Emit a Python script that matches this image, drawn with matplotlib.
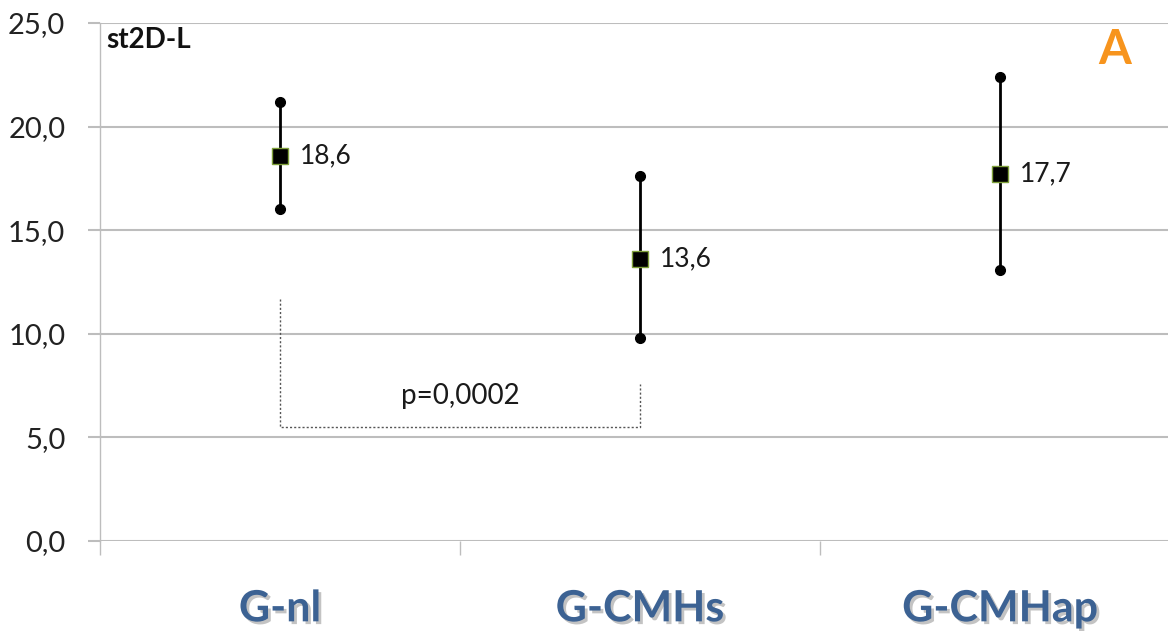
import matplotlib
matplotlib.use("Agg")
import matplotlib.pyplot as plt
import matplotlib.patheffects as pe
from matplotlib import font_manager as fm

categories = ["G-nl", "G-CMHs", "G-CMHap"]
means = [18.6, 13.6, 17.7]
upper = [21.2, 17.6, 22.4]
lower = [16.0, 9.8, 13.1]
mean_labels = ["18,6", "13,6", "17,7"]
yticks = [0, 5, 10, 15, 20, 25]
ytick_labels = ["0,0", "5,0", "10,0", "15,0", "20,0", "25,0"]
bracket_left_top = 11.7
bracket_right_top = 7.6
bracket_bottom = 5.5
p_text = "p=0,0002"

names = {f.name for f in fm.fontManager.ttflist}
base = "Lato" if "Lato" in names else "DejaVu Sans"
plt.rcParams['font.family'] = [base, 'DejaVu Sans']

fig = plt.figure(figsize=(11.68, 6.31), dpi=100)
ax = fig.add_axes([100/1168, (631-541)/631, 1080/1168, (541-23)/631])
ax.set_xlim(0, 3)
ax.set_ylim(0, 25)

grid_c = "#BDBDBD"
for s in ["top", "right", "bottom"]:
    ax.spines[s].set_visible(False)
ax.spines["left"].set_color(grid_c)
ax.spines["left"].set_linewidth(1.0)
ax.set_yticks(yticks)
ax.set_yticklabels(ytick_labels, fontsize=21, color="#222222")
ax.yaxis.grid(True, color=grid_c, linewidth=1.5)
ax.set_axisbelow(True)
ax.tick_params(axis="y", length=9, width=1.5, color=grid_c, pad=16)
ax.set_xticks([0, 1, 2, 3])
ax.set_xticklabels([])
ax.tick_params(axis="x", length=10, width=1.0, color=grid_c)
ax.axhline(0, color=grid_c, lw=2.0, zorder=1)

xs = [i + 0.5 for i in range(len(categories))]
for x, m, u, l, lab in zip(xs, means, upper, lower, mean_labels):
    ax.plot([x, x], [l, u], color="black", lw=2.0, zorder=3)
    ax.plot([x, x], [l, u], "o", color="black", ms=7, zorder=4)
    ax.plot([x], [m], "s", color="black", mec="#7FA03A", mew=1.0, ms=11, zorder=5)
    ax.annotate(lab, (x, m), xytext=(14, 0), textcoords="offset points",
                va="center", ha="left", fontsize=19, color="#1a1a1a")

for x, lab in zip(xs, categories):
    ax.text(x, -0.13, lab, transform=ax.get_xaxis_transform(), ha="center", va="center",
            fontsize=31, fontweight="bold", color="#3C6293",
            path_effects=[pe.withSimplePatchShadow(offset=(2, -2), shadow_rgbFace="#888888", alpha=0.5)])

# p bracket
xl, xr = xs[0], xs[1]
ax.plot([xl, xl, xr, xr], [bracket_left_top, bracket_bottom, bracket_bottom, bracket_right_top],
        color="#555555", lw=1.0, ls=(0, (1.5, 1.5)), zorder=2)
ax.text((xl + xr) / 2, 7.0, p_text, ha="center", va="center", fontsize=20, color="#1a1a1a")

ax.text(0.006, 24.2, "st2D-L", ha="left", va="center", fontsize=20, fontweight="bold",
        transform=ax.get_yaxis_transform(), color="#111111")
ax.text(1115/1168, 1 - 50/631, "A", transform=fig.transFigure, ha="center", va="center",
        fontsize=34, fontweight="bold", color="#F7941D")

fig.savefig("out.png", dpi=100)
